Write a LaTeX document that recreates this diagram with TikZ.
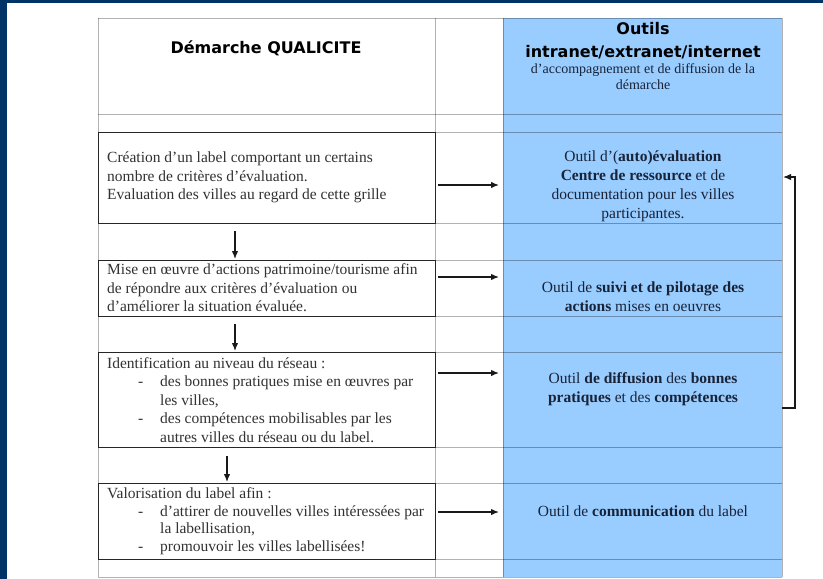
\documentclass[tikz,border=0pt]{standalone}
\usepackage{fontspec}
\setmainfont{Liberation Serif}
\newfontfamily\hdr{DejaVu Sans}
\usetikzlibrary{arrows.meta}
\definecolor{navy}{RGB}{0,51,102}
\definecolor{lblue}{RGB}{153,204,255}
\definecolor{txt}{RGB}{50,50,50}
\definecolor{ttxt}{RGB}{25,35,55}
\newcommand\qdash{\makebox[53pt][l]{\hspace*{31pt}-}}
\newcommand\qind{\hspace*{53pt}}
\begin{document}
\begin{tikzpicture}[x=1pt,y=-1pt,
  grid/.style={draw=black, opacity=0.3, line width=0.8pt},
  lbox/.style={draw=black!85, line width=1pt, minimum width=337pt, inner sep=0pt},
  ltext/.style={anchor=west, align=left, inner sep=0pt, font=\fontsize{15.5}{18.5}\selectfont, text=txt},
  ttext/.style={align=center, inner sep=0pt, font=\fontsize{15.5}{19}\selectfont, text=ttxt},
  htext/.style={inner sep=0pt, font=\hdr\bfseries\fontsize{16}{19}\selectfont, text=black},
  stext/.style={inner sep=0pt, font=\fontsize{14}{15}\selectfont, text=ttxt},
  arr/.style={-{Latex[length=8pt,width=6.5pt]}, line width=1.3pt, draw=black!90}
]
\useasboundingbox (0,0) rectangle (823,579);
\fill[white] (0,0) rectangle (823,579);
\fill[navy] (0,0) rectangle (823,2.5);
\fill[navy] (0,0) rectangle (7,579);
\fill[lblue] (503,18) rectangle (782,577);
\foreach \y in {18,114,132,223,260,316,352,447,483,559,577}
  \draw[grid] (98,\y) -- (782,\y);
\foreach \x in {98,435,503,782}
  \draw[grid] (\x,18) -- (\x,577);

% header
\node[htext] (h1) at (266,48) {Démarche QUALICITE};
\node[htext] (h2) at (643,29) {Outils};
\node[htext] (h3) at (643,52) {intranet/extranet/internet};
\node[stext] (h4) at (643,70) {d'accompagnement et de diffusion de la};
\node[stext] (h5) at (643,85) {démarche};

% left boxes
\node[lbox, minimum height=91pt] (b1) at (266.5,177.5) {};
\node[lbox, minimum height=56pt] (b2) at (266.5,288) {};
\node[lbox, minimum height=95pt] (b3) at (266.5,399.5) {};
\node[lbox, minimum height=76pt] (b4) at (266.5,521) {};

\node[ltext] (b1t) at (107,177.5) {Création d'un label comportant un certains\\
nombre de critères d'évaluation.\\
Evaluation des villes au regard de cette grille};
\node[ltext] (b2t) at (107,288) {Mise en œuvre d'actions patrimoine/tourisme afin\\
de répondre aux critères d'évaluation ou\\
d'améliorer la situation évaluée.};
\node[ltext] (b3t) at (107,400) {Identification au niveau du réseau :\\
\qdash des bonnes pratiques mise en œuvres par\\
\qind les villes,\\
\qdash des compétences mobilisables par les\\
\qind autres villes du réseau ou du label.};
\node[ltext, font=\fontsize{15.5}{17.5}\selectfont] (b4t) at (107,521) {Valorisation du label afin :\\
\qdash d'attirer de nouvelles villes intéressées par\\
\qind la labellisation,\\
\qdash promouvoir les villes labellisées!};

% right texts
\node[ttext] (t1) at (643,186.5) {Outil d'(\textbf{auto)évaluation}\\
\textbf{Centre de ressource} et de\\
documentation pour les villes\\
participantes.};
\node[ttext] (t2) at (643,296.5) {Outil de \textbf{suivi et de pilotage des}\\
\textbf{actions} mises en oeuvres};
\node[ttext] (t3) at (643,389.5) {Outil \textbf{de diffusion} des \textbf{bonnes}\\
\textbf{pratiques} et des \textbf{compétences}};
\node[ttext] (t4) at (643,511) {Outil de \textbf{communication} du label};

% arrow end points
\coordinate (a1s) at (438,185); \coordinate (a1e) at (499,185);
\coordinate (a2s) at (438,277); \coordinate (a2e) at (499,277);
\coordinate (a3s) at (438,373); \coordinate (a3e) at (499,373);
\coordinate (a4s) at (438,512); \coordinate (a4e) at (499,512);
\coordinate (d1s) at (235,231); \coordinate (d1e) at (235,259);
\coordinate (d2s) at (235,324); \coordinate (d2e) at (235,351);
\coordinate (d3s) at (227,456); \coordinate (d3e) at (227,482);
\coordinate (fs) at (782,408); \coordinate (fc) at (795,177); \coordinate (fe) at (783,177);

\draw[arr] (a1s) -- (a1e);
\draw[arr] (a2s) -- (a2e);
\draw[arr] (a3s) -- (a3e);
\draw[arr] (a4s) -- (a4e);
\draw[arr] (d1s) -- (d1e);
\draw[arr] (d2s) -- (d2e);
\draw[arr] (d3s) -- (d3e);
\draw[arr] (fs) -| (fc) -- (fe);
\end{tikzpicture}
\end{document}
